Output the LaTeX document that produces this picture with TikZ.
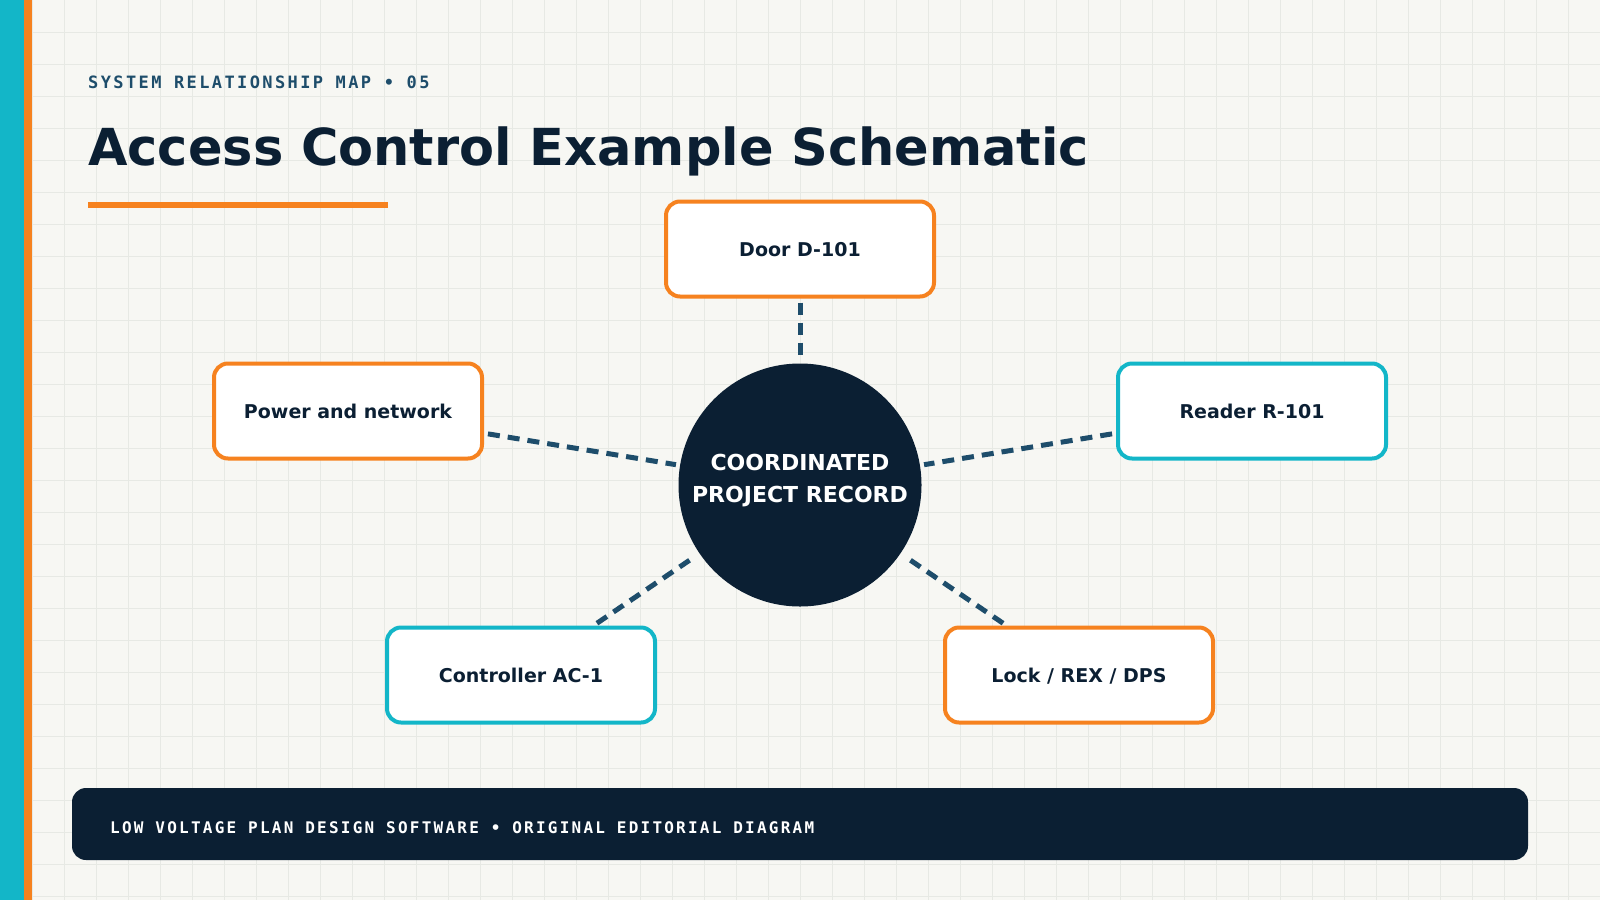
\documentclass[tikz,border=0pt]{standalone}
\usepackage{fontspec}
\setmainfont{DejaVu Sans}
\newfontfamily\monofont{DejaVu Sans Mono}[LetterSpace=14]
\definecolor{paper}{HTML}{F7F7F3}
\definecolor{gridline}{HTML}{E7E9E4}
\definecolor{navy}{HTML}{0B1F33}
\definecolor{accorange}{HTML}{F6821F}
\definecolor{acccyan}{HTML}{13B6C8}
\definecolor{linkblue}{HTML}{1E4D6B}
\begin{document}
\begin{tikzpicture}[x=1pt, y=-1pt,
    box/.style={draw=#1, line width=4pt, fill=white, rounded corners=14pt,
        minimum width=268pt, minimum height=95pt, text=navy,
        text height=16pt, text depth=2pt,
        font=\bfseries\fontsize{19}{22}\selectfont},
    hub/.style={circle, fill=navy, minimum size=243pt, inner sep=0pt, text=white,
        align=center, text depth=14pt, font=\bfseries\fontsize{22}{32}\selectfont},
    link/.style={draw=linkblue, line width=5pt, dash pattern=on 12pt off 8pt,
        shorten >=4pt, shorten <=4pt}]
    \useasboundingbox (0,0) rectangle (1600,900);
    % Paper and grid
    \fill[paper] (0,0) rectangle (1600,900);
    \foreach \x in {32,64,...,1600} {
        \draw[gridline, line width=1pt] (\x,0) -- (\x,900);
    }
    \foreach \y in {32,64,...,900} {
        \draw[gridline, line width=1pt] (0,\y) -- (1600,\y);
    }
    \fill[acccyan] (0,0) rectangle (24,900);
    \fill[accorange] (24,0) rectangle (32,900);

    % Heading
    \node[anchor=base west, inner sep=0pt, text=linkblue, font=\monofont\bfseries\fontsize{17}{20}\selectfont]
        (kicker) at (88,88) {SYSTEM RELATIONSHIP MAP • 05};
    \node[anchor=base west, inner sep=0pt, text=navy, font=\bfseries\fontsize{51}{60}\selectfont]
        (title) at (88,165) {Access Control Example Schematic};
    \fill[accorange] (88,202) rectangle (388,208);

    % Hub and devices
    \node[hub] (hub) at (800,485) {COORDINATED\\PROJECT RECORD};
    \node[box=accorange] (door) at (800,249) {Door D-101};
    \node[box=accorange] (power) at (348,411) {Power and network};
    \node[box=acccyan] (reader) at (1252,411) {Reader R-101};
    \node[box=acccyan] (ctrl) at (521,675) {Controller AC-1};
    \node[box=accorange] (lock) at (1079,675) {Lock / REX / DPS};

    % Links
    \foreach \dev in {door, power, reader, ctrl, lock} {
        \draw[link] (\dev) -- (hub);
    }

    % Footer
    \fill[navy, rounded corners=14pt] (72,788) rectangle (1528,860);
    \node[anchor=base west, inner sep=0pt, text=white, font=\monofont\bfseries\fontsize{16}{19}\selectfont]
        (footer) at (110,833) {LOW VOLTAGE PLAN DESIGN SOFTWARE • ORIGINAL EDITORIAL DIAGRAM};
\end{tikzpicture}
\end{document}
